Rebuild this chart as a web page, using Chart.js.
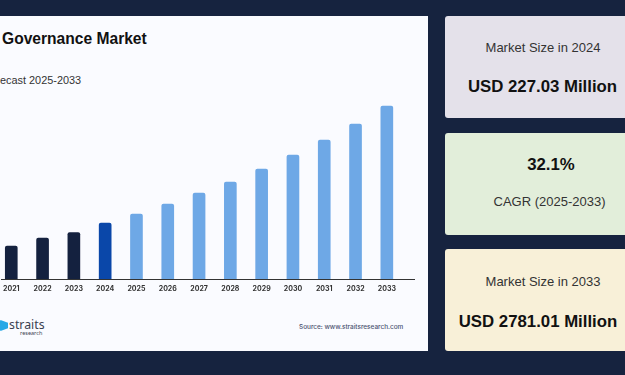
<!DOCTYPE html>
<html>
<head>
<meta charset="utf-8">
<script src="https://cdn.jsdelivr.net/npm/chart.js@4"></script>
<style>
  html, body { margin: 0; padding: 0; }
  body { width: 625px; height: 375px; background: #16233f; position: relative; overflow: hidden; font-family: "Liberation Sans", sans-serif; }
  .panel { position: absolute; left: 0; top: 16px; width: 428px; height: 335px; background: #fafbff; }
  .abs { position: absolute; white-space: nowrap; }
  #chartBox { position: absolute; left: 0; top: 99px; width: 415px; height: 200px; }
  .card { position: absolute; left: 445px; width: 180px; height: 102px; border-radius: 3px 0 0 3px; color: #111; text-align: center; }
  .card .abs { width: 100%; }
  .small { font-size: 13px; color: #333; }
  .big { font-size: 16.8px; font-weight: bold; }
</style>
</head>
<body>
<div class="panel"></div>
<div class="abs" style="left:2px;top:30px;font-size:15.6px;font-weight:bold;color:#111">Governance Market</div>
<div class="abs" style="left:0;top:74px;font-size:10.9px;color:#333">ecast 2025-2033</div>
<div id="chartBox"><canvas id="marketChart"></canvas></div>
<div class="abs" style="left:-2px;top:320px;width:10px;height:11px;background:#29a9e6;clip-path:polygon(25% 0,100% 25%,100% 75%,25% 100%,0 50%)"></div>
<div class="abs" style="left:9px;top:316px;font:12.3px 'Noto Sans',sans-serif;color:#3a4150">straits</div>
<div class="abs" style="left:20px;top:329px;font:5.5px 'Noto Sans',sans-serif;color:#3a4150">research</div>
<div class="abs" style="left:299px;top:323px;font:500 6.45px Inter,sans-serif;color:#4a5270">Source: www.straitsresearch.com</div>

<div class="card" style="top:16px;background:#e4e1ea">
  <div class="abs small" style="left:8px;top:24px">Market Size in 2024</div>
  <div class="abs big" style="left:7.5px;top:61px">USD 227.03 Million</div>
</div>
<div class="card" style="top:133px;background:#e2eeda">
  <div class="abs big" style="left:16px;top:22px">32.1%</div>
  <div class="abs small" style="left:14.5px;top:61px">CAGR (2025-2033)</div>
</div>
<div class="card" style="top:249px;background:#f8f0d8">
  <div class="abs small" style="left:8px;top:25px">Market Size in 2033</div>
  <div class="abs big" style="left:3px;top:63px">USD 2781.01 Million</div>
</div>

<script>
// bar heights, the drawn bars are not to the scale of the cards
const years = [2021, 2022, 2023, 2024, 2025, 2026, 2027, 2028, 2029, 2030, 2031, 2032, 2033];
const marketValues = [33, 41, 46.5, 56, 65, 75, 86, 97, 110, 124, 139, 155, 173];
const barColors = ["#14213f", "#14213f", "#14213f", "#0a47a9", "#6ea8e6", "#6ea8e6", "#6ea8e6", "#6ea8e6", "#6ea8e6", "#6ea8e6", "#6ea8e6", "#6ea8e6", "#6ea8e6"];

const ctx = document.getElementById("marketChart").getContext("2d");
new Chart(ctx, {
  type: "bar",
  data: {
    datasets: [
      {
        data: years.map((y, i) => ({ x: y, y: marketValues[i] })),
        backgroundColor: barColors,
        barThickness: 12,
        borderRadius: { topLeft: 2, topRight: 2 },
        borderSkipped: "bottom",
      },
    ],
  },
  options: {
    responsive: true,
    maintainAspectRatio: false,
    animation: false,
    layout: { padding: 0 },
    plugins: {
      legend: { display: false },
      tooltip: { enabled: false },
    },
    scales: {
      y: { display: false, min: 0, max: 180 },
      x: {
        type: "linear",
        offset: false,
        min: 2020.68,
        max: 2033.9,
        afterBuildTicks: (axis) => {
          axis.ticks = years.map((y) => ({ value: y }));
        },
        afterFit: (axis) => {
          axis.height = 20;
        },
        grid: { display: false, tickLength: 3 },
        border: { display: true, color: "#333333", width: 1 },
        ticks: {
          padding: 3,
          autoSkip: false,
          maxRotation: 0,
          color: "#333333",
          font: { family: "Inter", size: 7, weight: "bold" },
          callback: (value) => String(value),
        },
      },
    },
  },
});
</script>
</body>
</html>
